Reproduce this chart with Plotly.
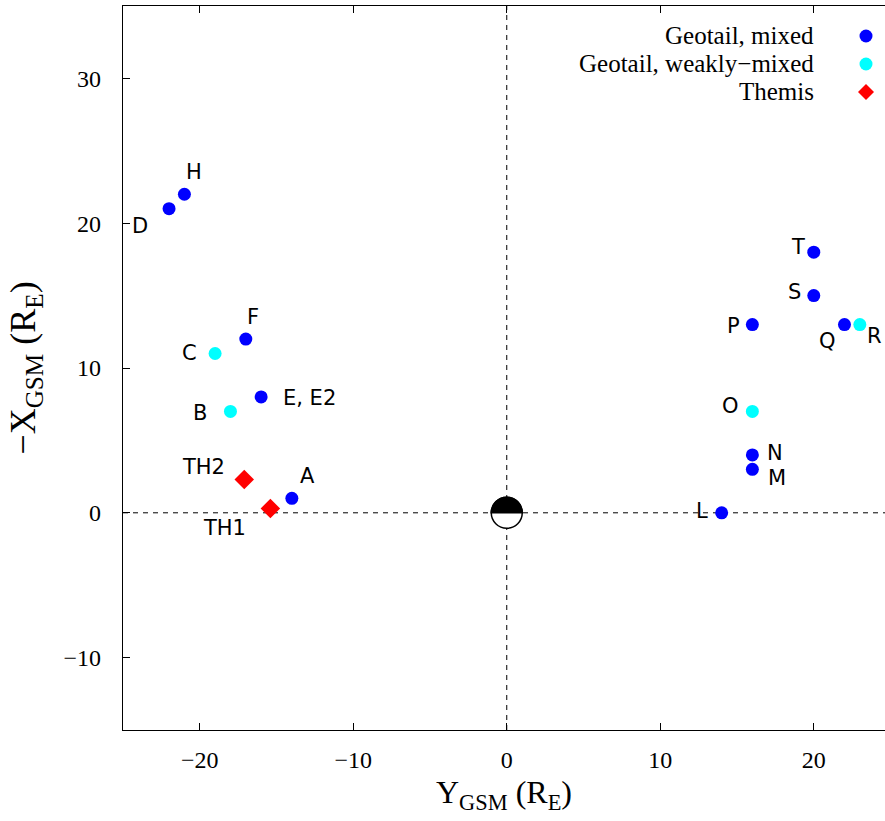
import numpy as np
import plotly.graph_objects as go

# ---- data ----
mixed_labels = ["D", "H", "F", "E, E2", "A", "T", "S", "P", "Q", "N", "M", "L"]
mixed_y = [-22, -21, -17, -16, -14, 20, 20, 16, 22, 16, 16, 14]
mixed_x = [21, 22, 12, 8, 1, 18, 15, 13, 13, 4, 3, 0]

weak_labels = ["C", "B", "O", "R"]
weak_y = [-19, -18, 16, 23]
weak_x = [11, 7, 7, 13]

themis_labels = ["TH2", "TH1"]
themis_y = [-17.1, -15.4]
themis_x = [2.3, 0.3]

legend_names = ["Geotail, mixed", "Geotail, weakly\u2212mixed", "Themis"]

# label pixel offsets (style)
label_offsets = {
    "D": (-29, -17), "H": (10, 22), "C": (-26, 1), "F": (7, 22), "B": (-30, -2),
    "E, E2": (48, -1), "TH2": (-41, 13), "TH1": (-46, -20), "A": (16, 22),
    "T": (-16, 5), "S": (-19, 4), "P": (-19, -1), "Q": (-17, -16), "R": (15, -11),
    "O": (-22, 5), "N": (23, 2), "M": (25, -9), "L": (-20, 2),
}

BLUE, CYAN, RED = "#0000ff", "#00ffff", "#ff0000"

fig = go.Figure()
fig.add_trace(go.Scatter(x=mixed_y, y=mixed_x, mode="markers",
                         marker=dict(color=BLUE, size=13, symbol="circle"),
                         name=legend_names[0], showlegend=False))
fig.add_trace(go.Scatter(x=weak_y, y=weak_x, mode="markers",
                         marker=dict(color=CYAN, size=13, symbol="circle"),
                         name=legend_names[1], showlegend=False))
fig.add_trace(go.Scatter(x=themis_y, y=themis_x, mode="markers",
                         marker=dict(color=RED, size=15, symbol="diamond"),
                         name=legend_names[2], showlegend=False))

label_font = dict(family="DejaVu Sans", size=21, color="black")
annotations = []
for labels, xs, ys in [(mixed_labels, mixed_y, mixed_x),
                       (weak_labels, weak_y, weak_x),
                       (themis_labels, themis_y, themis_x)]:
    for lab, xv, yv in zip(labels, xs, ys):
        dx, dy = label_offsets[lab]
        annotations.append(dict(x=xv, y=yv, xref="x", yref="y", text=lab,
                                showarrow=False, xshift=dx, yshift=dy,
                                font=label_font))

# manual legend (text right-aligned, symbol on the right)
W, H = 885, 821
ml, mr, mt, mb = 123, 0, 6, 91
pw, ph = W - ml - mr, H - mt - mb
def px2paper(px, py):
    return (px - ml) / pw, (H - mb - py) / ph

legend_rows_py = [36, 64, 92]
legend_colors = [BLUE, CYAN, RED]
shapes = []
for name, py, col, i in zip(legend_names, legend_rows_py, legend_colors, range(3)):
    tx, ty = px2paper(816, py)
    annotations.append(dict(x=tx, y=ty, xref="paper", yref="paper", text=name,
                            showarrow=False, xanchor="right", yanchor="middle",
                            font=dict(family="Liberation Serif", size=25, color="black")))
    mx, my = px2paper(866, py)
    if i < 2:
        shapes.append(dict(type="circle", xref="paper", yref="paper",
                           xsizemode="pixel", ysizemode="pixel", xanchor=mx, yanchor=my,
                           x0=-6.5, x1=6.5, y0=-6.5, y1=6.5,
                           fillcolor=col, line=dict(width=0)))
    else:
        shapes.append(dict(type="path", xref="paper", yref="paper",
                           xsizemode="pixel", ysizemode="pixel", xanchor=mx, yanchor=my,
                           path="M -8 0 L 0 8 L 8 0 L 0 -8 Z",
                           fillcolor=col, line=dict(width=0)))

# dashed zero lines
shapes.append(dict(type="line", xref="x", yref="paper", x0=0, x1=0, y0=0, y1=1,
                   line=dict(color="black", width=1, dash="5px,5px"), layer="below"))
shapes.append(dict(type="line", xref="paper", yref="y", x0=0, x1=1, y0=0, y1=0,
                   line=dict(color="black", width=1, dash="5px,5px"), layer="below"))

# Earth symbol at origin
R = 15.5
shapes.append(dict(type="circle", xref="x", yref="y", xsizemode="pixel", ysizemode="pixel",
                   xanchor=0, yanchor=0, x0=-R, x1=R, y0=-R, y1=R,
                   fillcolor="white", line=dict(color="black", width=1.5)))
ang = np.linspace(0, np.pi, 40)
pts = " L ".join(f"{R*np.cos(a):.2f} {R*np.sin(a):.2f}" for a in ang)
shapes.append(dict(type="path", xref="x", yref="y", xsizemode="pixel", ysizemode="pixel",
                   xanchor=0, yanchor=0, path="M " + pts + " Z",
                   fillcolor="black", line=dict(color="black", width=1.5)))

tick_font = dict(family="Liberation Serif", size=24, color="black")
fig.update_layout(
    width=W, height=H,
    margin=dict(l=ml, r=mr, t=mt, b=mb),
    plot_bgcolor="white", paper_bgcolor="white",
    showlegend=False,
    annotations=annotations, shapes=shapes,
    xaxis=dict(range=[-25, 24.64], tickvals=[-20, -10, 0, 10, 20],
               showgrid=False, zeroline=False, showline=True, linecolor="black",
               linewidth=1.2, mirror="ticks", ticks="inside", ticklen=7,
               tickcolor="black", tickfont=tick_font, ticklabelstandoff=8,
               title=dict(text="Y<sub>GSM</sub> (R<sub>E</sub>)",
                          font=dict(family="Liberation Serif", size=32, color="black"),
                          standoff=8)),
    yaxis=dict(range=[-15, 35], tickvals=[-10, 0, 10, 20, 30],
               showgrid=False, zeroline=False, showline=True, linecolor="black",
               linewidth=1.2, mirror=False, ticks="inside", ticklen=7,
               tickcolor="black", tickfont=tick_font, ticklabelstandoff=16,
               title=dict(text="\u2212X<sub>GSM</sub> (R<sub>E</sub>)",
                          font=dict(family="Liberation Serif", size=36, color="black"),
                          standoff=16)),
)

fig.write_html("out.html")
